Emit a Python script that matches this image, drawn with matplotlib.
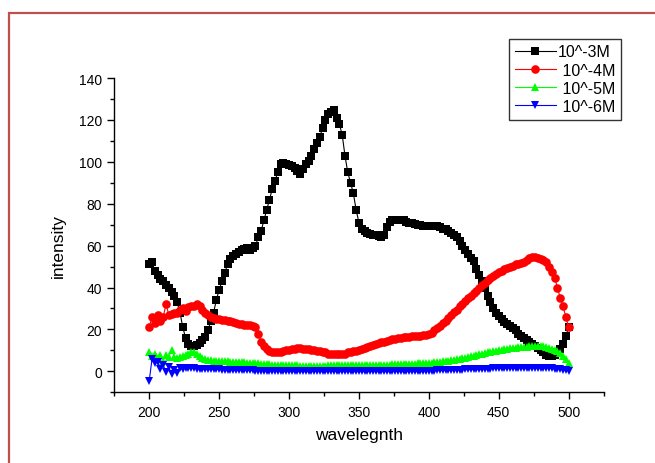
import numpy as np
import matplotlib
matplotlib.use("Agg")
import matplotlib.pyplot as plt
from matplotlib.patches import Rectangle

plt.rcParams['font.family'] = ['Liberation Sans', 'DejaVu Sans']

# wavelength grid (nm), sampled every 2 nm
wavelength = np.arange(200, 501, 2)

conc_1e3 = [
    51, 52, 48, 46, 44, 43, 41, 40, 38, 36,
    33, 28, 21, 16, 13, 12, 12, 12.5, 13.5, 15,
    16.5, 19.5, 24, 28, 34, 39, 43, 47, 51, 53.5,
    55, 56, 57, 58, 58.5, 59, 58, 59, 60, 64,
    67, 72, 77, 82, 87, 91, 95, 99, 99.5, 99,
    98.5, 98, 97, 95.5, 94, 96.5, 99, 100.5, 103, 106,
    109, 112, 116, 120, 123, 124, 124.5, 121, 118, 113,
    103, 95, 90, 85, 77, 71, 68, 67, 66, 65.5,
    65, 65, 64.5, 64, 65, 69, 71.5, 72, 72, 72,
    72, 72, 71.5, 71, 71, 70.5, 70, 70, 69.5, 69.5,
    69.5, 69.5, 69.5, 69.5, 69, 68, 68, 67, 66, 65,
    64, 62, 60, 58, 56, 54, 52.5, 49, 46, 43,
    40, 36, 33, 30, 28, 26.5, 25, 23.5, 22.5, 21.5,
    20.5, 19.5, 18, 17, 16, 15, 14, 13, 12, 11,
    10, 9, 8, 7.5, 7.5, 8, 9, 10.5, 13, 17,
    21,
]

conc_1e4 = [
    21, 26, 23, 27, 24, 26, 32, 27, 27.5, 28,
    28, 29.5, 30, 29, 30.5, 31, 31, 32, 31, 29.5,
    28, 27, 26, 25.5, 25, 25, 24.5, 24.5, 24, 24,
    23.5, 23, 22.5, 22.5, 22, 22, 22, 21.5, 21, 18,
    14, 12, 10.5, 9.5, 9, 9, 9, 9, 9.5, 10,
    10, 10.5, 10.5, 11, 11, 10.5, 10.5, 10.5, 10, 10,
    9.5, 9.5, 9, 9, 8.5, 8.5, 8.5, 8.5, 8.5, 8.5,
    8.5, 9, 9, 9.5, 9.5, 10, 10.5, 11, 11.5, 12,
    12.5, 13, 13.5, 14, 14, 14.5, 15, 15.5, 15.5, 16,
    16, 16.5, 16.5, 16.5, 17, 17, 17, 17, 17.5, 17.5,
    18, 18.5, 19.5, 20.5, 21.5, 23, 24, 25.5, 27, 28.5,
    29.5, 31, 32, 33.5, 35, 36, 37.5, 38.5, 40, 41,
    42, 43.5, 44.5, 45.5, 46.5, 47.5, 48, 49, 49.5, 50,
    50.5, 51, 51, 51.5, 52, 53, 54, 54.5, 54.5, 54,
    53.5, 53, 52, 50, 47.5, 44.5, 40, 35, 31, 26,
    21,
]

conc_1e5 = [
    9, 7.5, 8.5, 6, 8, 5, 8, 7, 10, 7,
    6.5, 7, 7.5, 8, 8.5, 9, 9, 8.5, 7.5, 6.5,
    6, 5.5, 5.5, 5, 5, 5, 5, 4.8, 4.8, 4.6,
    4.6, 4.5, 4.5, 4.4, 4.3, 4.2, 4.1, 4, 3.9, 3.8,
    3.6, 3.5, 3.4, 3.3, 3.2, 3.1, 3, 3, 2.9, 2.9,
    2.8, 2.8, 2.8, 2.8, 2.7, 2.7, 2.7, 2.7, 2.7, 2.7,
    2.7, 2.7, 2.7, 2.7, 2.8, 2.8, 2.8, 2.8, 2.8, 2.8,
    2.8, 2.8, 2.9, 2.9, 2.9, 2.9, 3, 3, 3, 3,
    3, 3.1, 3.1, 3.1, 3.2, 3.2, 3.2, 3.3, 3.3, 3.4,
    3.4, 3.5, 3.5, 3.6, 3.7, 3.7, 3.8, 3.9, 4, 4,
    4.1, 4.2, 4.3, 4.4, 4.5, 4.7, 4.9, 5.1, 5.3, 5.5,
    5.7, 6, 6.3, 6.6, 6.9, 7.2, 7.5, 7.8, 8.1, 8.4,
    8.7, 9, 9.3, 9.6, 9.9, 10.1, 10.3, 10.5, 10.7, 10.9,
    11.1, 11.2, 11.4, 11.5, 11.7, 11.8, 12, 12.1, 12.2, 12.2,
    12.1, 11.9, 11.6, 11.2, 10.8, 10.2, 9.5, 8.6, 7.5, 6,
    4,
]

conc_1e6 = [
    -4.5, 6, 4, 4.5, 1, 3, -0.5, 2, -1.5, 0.5,
    -1, 1.5, 1, 1.5, 1.5, 1.5, 1.4, 1.3, 1.2, 1.2,
    1.1, 1.1, 1, 1, 0.9, 0.9, 0.8, 0.8, 0.7, 0.7,
    0.6, 0.6, 0.5, 0.5, 0.5, 0.4, 0.4, 0.4, 0.3, 0.3,
    0.3, 0.2, 0.2, 0.2, 0.1, 0.1, 0.1, 0, 0, 0,
    0, 0, 0, 0, 0, 0, 0, 0, 0, 0,
    0, 0, 0, 0, 0, 0, 0, 0, 0, 0,
    0, 0, 0, 0, 0, 0, 0, 0, 0, 0,
    0, 0, 0, 0, 0, 0, 0, 0, 0, 0,
    0, 0, 0, 0, 0.1, 0.1, 0.1, 0.1, 0.2, 0.2,
    0.2, 0.3, 0.3, 0.4, 0.4, 0.5, 0.5, 0.6, 0.6, 0.7,
    0.7, 0.8, 0.8, 0.9, 0.9, 1, 1, 1.1, 1.1, 1.2,
    1.2, 1.3, 1.3, 1.4, 1.4, 1.5, 1.5, 1.6, 1.6, 1.7,
    1.7, 1.7, 1.8, 1.8, 1.8, 1.8, 1.8, 1.8, 1.8, 1.8,
    1.7, 1.7, 1.6, 1.5, 1.4, 1.3, 1.2, 1.0, 0.8, 0.5,
    0.2,
]

labels = ["10^-3M", " 10^-4M", " 10^-5M", " 10^-6M"]
colors = ["#000000", "#FF0000", "#00FF00", "#0000FF"]
markers = ["s", "o", "^", "v"]
series = [conc_1e3, conc_1e4, conc_1e5, conc_1e6]

fig = plt.figure(figsize=(6.55, 4.64), dpi=100)
ax = fig.add_axes([0.1745, 0.1524, 0.747, 0.6773])

handles = []
for y, c, m, lab in zip(series, colors, markers, labels):
    h, = ax.plot(wavelength, y, color=c, marker=m, markersize=6.2,
                 linewidth=0.8, markeredgewidth=0, label=lab)
    handles.append(h)

ax.set_xlim(175, 525)
ax.set_ylim(-10, 140)
ax.set_xticks(np.arange(200, 501, 50))
ax.set_xticks(np.arange(175, 526, 25), minor=True)
ax.set_yticks(np.arange(0, 141, 20))
ax.set_yticks(np.arange(-10, 141, 10), minor=True)

for s in ["top", "right"]:
    ax.spines[s].set_visible(False)
for s in ["left", "bottom"]:
    ax.spines[s].set_linewidth(1.0)

ax.tick_params(which="major", direction="out", length=5, width=1.0,
               labelsize=10, pad=4)
ax.tick_params(which="minor", direction="out", length=3, width=1.0)

ax.set_xlabel("wavelegnth", fontsize=12.5)
ax.set_ylabel("intensity", fontsize=12.5)
ax.xaxis.set_label_coords(0.5, -0.112)
ax.yaxis.set_label_coords(-0.099, 0.47)

leg = fig.legend(handles=handles, loc="upper left",
                 bbox_to_anchor=(0.777, 0.914), fontsize=11.5,
                 frameon=True, fancybox=False, handlelength=2.6,
                 handletextpad=0.1, labelspacing=0.2, borderpad=0.35,
                 borderaxespad=0, numpoints=1)
leg.get_frame().set_edgecolor("black")
leg.get_frame().set_linewidth(1.0)

# page border
fig.patches.append(Rectangle((9 / 655, -0.05), 1.1, 1 - 14 / 464 + 0.05,
                             transform=fig.transFigure, fill=False,
                             edgecolor="#C0504D", linewidth=1.6))

fig.savefig("out.png", dpi=100)
